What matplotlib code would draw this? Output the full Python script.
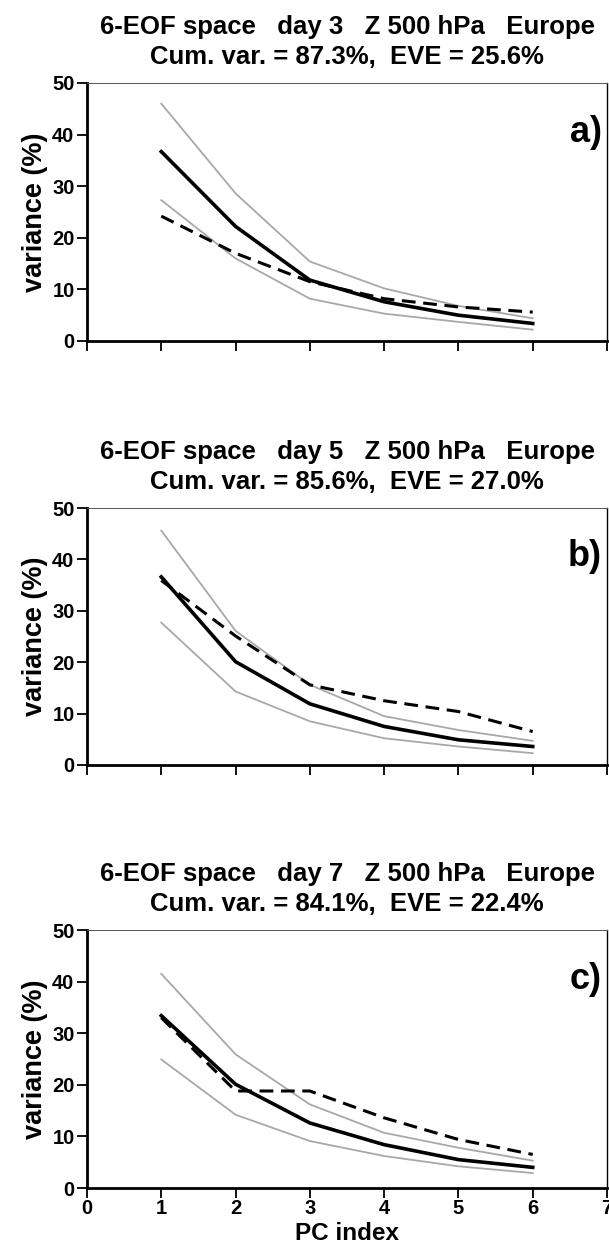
import numpy as np
import matplotlib
matplotlib.use("Agg")
import matplotlib.pyplot as plt

plt.rcParams['font.family'] = ['Liberation Sans', 'DejaVu Sans']
plt.rcParams['font.weight'] = 'bold'

# --- Données ---
pc_index = [1, 2, 3, 4, 5, 6]

titles = [
    "6-EOF space   day 3   Z 500 hPa   Europe\nCum. var. = 87.3%,  EVE = 25.6%",
    "6-EOF space   day 5   Z 500 hPa   Europe\nCum. var. = 85.6%,  EVE = 27.0%",
    "6-EOF space   day 7   Z 500 hPa   Europe\nCum. var. = 84.1%,  EVE = 22.4%",
]
panel_labels = ["a)", "b)", "c)"]

# panel a (day 3)
upper_a = [46.0, 28.6, 15.4, 10.2, 6.8, 4.4]
mean_a = [36.7, 22.2, 11.8, 7.6, 5.0, 3.4]
lower_a = [27.3, 16.0, 8.2, 5.3, 3.7, 2.2]
dashed_a = [24.2, 17.0, 11.5, 8.2, 6.6, 5.6]

# panel b (day 5)
upper_b = [45.6, 26.1, 15.6, 9.5, 6.8, 4.7]
mean_b = [36.6, 20.1, 11.9, 7.5, 4.9, 3.6]
lower_b = [27.7, 14.3, 8.5, 5.2, 3.6, 2.3]
dashed_b = [35.9, 25.1, 15.6, 12.5, 10.4, 6.5]

# panel c (day 7)
upper_c = [41.5, 25.9, 16.2, 10.7, 7.8, 5.3]
mean_c = [33.4, 20.1, 12.6, 8.4, 5.5, 4.0]
lower_c = [24.9, 14.2, 9.1, 6.2, 4.2, 2.9]
dashed_c = [33.0, 18.8, 18.8, 13.6, 9.4, 6.5]

panels = [
    (upper_a, mean_a, lower_a, dashed_a),
    (upper_b, mean_b, lower_b, dashed_b),
    (upper_c, mean_c, lower_c, dashed_c),
]

# --- Figure ---
W, H = 609, 1249
fig = plt.figure(figsize=(W / 100, H / 100), dpi=100)

# (haut, bas) en pixels pour chaque panneau
rows = [(83, 341), (508, 765), (930, 1188)]
left_px, right_px = 87, 607

for i, ((top, bot), (up, mn, lo, da)) in enumerate(zip(rows, panels)):
    ax = fig.add_axes([left_px / W, 1 - bot / H, (right_px - left_px) / W, (bot - top) / H])
    ax.plot(pc_index, up, color='#a8a8a8', lw=1.3)
    ax.plot(pc_index, lo, color='#a8a8a8', lw=1.3)
    ax.plot(pc_index, da, color='black', lw=2.2, linestyle=(0, (4.5, 2.5)))
    ax.plot(pc_index, mn, color='black', lw=2.6)

    ax.set_xlim(0, 7)
    ax.set_ylim(0, 50)
    ax.set_xticks(range(0, 8))
    ax.set_yticks(range(0, 51, 10))
    ax.tick_params(axis='both', direction='out', length=7, width=1.3, labelsize=14.5)
    ax.tick_params(axis='y', pad=2)
    ax.tick_params(axis='x', pad=1)
    for s in ['left', 'bottom']:
        ax.spines[s].set_linewidth(2.0)
    ax.spines['right'].set_linewidth(1.0)
    ax.spines['top'].set_linewidth(0.7)
    ax.spines['top'].set_color('#555555')

    ax.set_ylabel('variance (%)', fontsize=19.5, fontweight='bold', labelpad=3)
    if i < 2:
        ax.set_xticklabels([])
    else:
        ax.set_xlabel('PC index', fontsize=17.5, fontweight='bold', labelpad=3)

    ax.set_title(titles[i], fontsize=18.5, fontweight='bold', pad=14, linespacing=1.3)
    ax.text(6.93, 40.5, panel_labels[i], fontsize=26, fontweight='heavy',
            ha='right', va='center')

plt.savefig('out.png', dpi=100)
